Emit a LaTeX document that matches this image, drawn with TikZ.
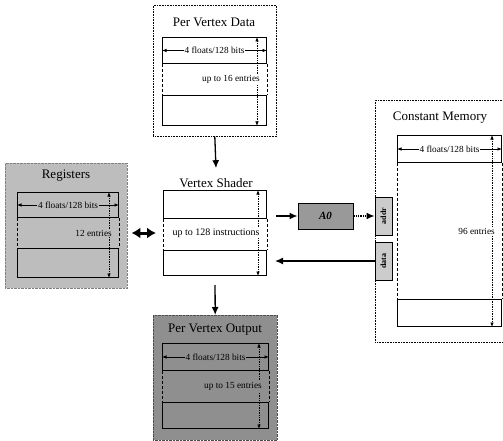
\documentclass[tikz,border=0pt]{standalone}
\usepackage{fontspec}
\setmainfont{Liberation Serif}
\usetikzlibrary{arrows.meta,calc}
\definecolor{regfill}{gray}{0.74}
\definecolor{pvofill}{gray}{0.56}
\definecolor{aofill}{gray}{0.60}
\definecolor{portfill}{gray}{0.80}
\tikzset{
  title/.style={font=\fontsize{13}{14}\selectfont, inner sep=0pt},
  lbl/.style={font=\fontsize{9.3}{10}\selectfont, inner sep=1pt},
  rowbox/.style={draw, line width=1pt, inner sep=0pt, anchor=north west},
  outerbox/.style={inner sep=0pt, anchor=north west},
  midside/.style={densely dashed, line width=0.8pt},
  widtharrow/.style={line width=0.7pt, {Latex[length=4.5pt,width=3.5pt]}-{Latex[length=4.5pt,width=3.5pt]}},
  dimarrow/.style={densely dotted, line width=0.7pt, {Latex[length=4.5pt,width=3.5pt]}-{Latex[length=4.5pt,width=3.5pt]}},
  flow/.style={line width=1.3pt, -{Latex[length=8pt,width=7pt]}},
  dflow/.style={line width=1.3pt, densely dotted, -{Latex[length=8pt,width=7pt]}},
  bidir/.style={line width=3pt, {Latex[length=9pt,width=11pt]}-{Latex[length=9pt,width=11pt]}},
  port/.style={draw, line width=1pt, fill=portfill, minimum width=17pt, minimum height=38pt, inner sep=0pt,
               font=\fontsize{8}{8}\selectfont\bfseries},
}
% #1 prefix, #2 x, #3 width, #4 ytop, #5 top row height, #6 y of bottom row, #7 bottom row height, #8 fill, #9 entries text
\newcommand\memparts[9]{%
  \node[rowbox, fill=#8, minimum width=#3pt, minimum height=#5pt] (#1top) at (#2,#4) {};
  \node[rowbox, fill=#8, minimum width=#3pt, minimum height=#7pt] (#1bot) at (#2,#6) {};
  \draw[midside] (#1top.south west) -- (#1bot.north west);
  \draw[midside] (#1top.south east) -- (#1bot.north east);
  \draw[widtharrow] (#1top.west) -- (#1top.east) node[lbl, midway, fill=#8] (#1wid) {4 floats/128 bits};
  \draw[dimarrow] ([xshift=-10pt]#1top.north east) -- ([xshift=-10pt]#1bot.south east);
  \node[lbl, fill=#8, anchor=east] (#1ent) at ($(#1top.south east)!0.5!(#1bot.north east)+(-6pt,0)$) {#9};
}
\begin{document}
\begin{tikzpicture}[x=1pt,y=-1pt]
\useasboundingbox[fill=white] (0,0) rectangle (503,441);

% outer containers
\node[outerbox, draw, densely dotted, line width=0.6pt, minimum width=123pt, minimum height=131pt] (pvd) at (153,5) {};
\node[outerbox, fill=regfill, draw=gray, densely dotted, minimum width=122pt, minimum height=125pt] (reg) at (5,163) {};
\node[outerbox, fill=pvofill, draw=gray!60!black, densely dotted, minimum width=124pt, minimum height=125pt] (pvo) at (153,315) {};
\node[outerbox, draw, densely dotted, line width=0.6pt, minimum width=131pt, minimum height=242pt] (cm) at (375,100) {};

% titles
\node[title] (pvdtitle) at (214,22) {Per Vertex Data};
\node[title] (regtitle) at (66,176) {Registers};
\node[title] (vstitle) at (216,183) {Vertex Shader};
\node[title] (pvotitle) at (215,330) {Per Vertex Output};
\node[title] (cmtitle) at (440,118) {Constant Memory};

% memory rows
\memparts{pvd}{162}{104}{37}{26}{95}{30}{white}{up to 16 entries}
\memparts{reg}{17}{101}{192}{25}{248}{29}{regfill}{12 entries}
\memparts{pvo}{162}{106}{343}{27}{402}{26}{pvofill}{up to 15 entries}
\memparts{cm}{397}{104}{135}{27}{299}{27}{white}{96 entries}

% vertex shader
\node[rowbox, fill=white, minimum width=103pt, minimum height=28pt] (vstop) at (163,190) {};
\node[rowbox, fill=white, minimum width=103pt, minimum height=25pt] (vsbot) at (163,250) {};
\draw[midside] (vstop.south west) -- (vsbot.north west);
\draw[midside] (vstop.south east) -- (vsbot.north east);
\draw[dimarrow] ([xshift=-9pt]vstop.north east) -- ([xshift=-9pt]vsbot.south east);
\node[lbl, fill=white, font=\fontsize{10}{11}\selectfont] (vsmid) at (216,233) {up to 128 instructions};

% A0 and ports
\node[draw, line width=1pt, fill=aofill, minimum width=55pt, minimum height=26pt, inner sep=0pt,
      font=\fontsize{11}{12}\selectfont\bfseries\itshape] (ao) at (325.5,216) {A0};
\node[port] (addr) at (383.5,216) {\rotatebox{90}{addr}};
\node[port] (data) at (383.5,261) {\rotatebox{90}{data}};

% connectors
\draw[flow] (pvd.south) -- ([yshift=10pt]vstitle.north);
\draw[flow, shorten <=9pt] (vsbot.south) -- (pvo.north);
\draw[bidir] ([xshift=4pt]reg.east |- vsmid) -- ([xshift=-7pt]vstop.west |- vsmid);
\draw[flow] ([xshift=9pt]vstop.east |- ao.west) -- (ao.west);
\draw[dflow] (ao.east) -- (addr.west);
\draw[flow] (data.west) -- ([xshift=8pt]vsbot.east |- data.west);
\end{tikzpicture}
\end{document}
